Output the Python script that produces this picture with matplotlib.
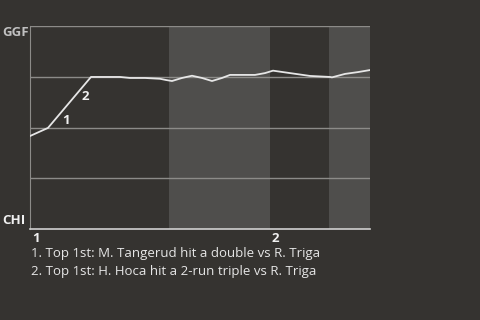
import matplotlib.pyplot as plt

# win expectancy for GGF (0 = CHI, 1 = GGF), x in plays through the game
play = [0, 1.8, 6.1, 9.0, 10, 11.5, 13, 13.6, 14.2, 15.2, 16.2, 17.2, 18.2, 19.2,
        20, 22.5, 23.5, 24.3, 26, 28, 30, 30.2, 31.5, 32.8, 34]
win_exp = [0.458, 0.498, 0.749, 0.749, 0.744, 0.744, 0.740, 0.734, 0.729, 0.744,
           0.755, 0.744, 0.729, 0.744, 0.759, 0.759, 0.768, 0.780, 0.768, 0.754,
           0.749, 0.747, 0.764, 0.773, 0.783]
half_innings = [(0, 13.9), (13.9, 24), (24, 29.9), (29.9, 34)]
inning_ticks = [0, 24]
inning_labels = ["1", "2"]
events = [(1.8, 0.498, "1"), (6.1, 0.749, "2")]
notes = ["1. Top 1st: M. Tangerud hit a double vs R. Triga",
         "2. Top 1st: H. Hoca hit a 2-run triple vs R. Triga"]

bg = "#353330"
plt.rcParams['font.family'] = ['Open Sans', 'DejaVu Sans']

fig = plt.figure(figsize=(4.8, 3.2), dpi=100, facecolor=bg)
ax = fig.add_axes([30 / 480, 91 / 320, 340 / 480, 203 / 320])
ax.set_facecolor(bg)

for i, (a, b) in enumerate(half_innings):
    if i % 2 == 1:
        ax.axvspan(a, b, color="#4f4e4c", lw=0, zorder=0)

for g in [0.25, 0.5, 0.75, 1.0]:
    ax.axhline(g, color="#8c8b88", lw=1, zorder=1)

ax.plot(play, win_exp, color="#e6e6e6", lw=1.3, zorder=3)

offsets = [(13, 5), (-4.3, -14.4)]
for (ex, ey, lab), off in zip(events, offsets):
    ax.annotate(lab, (ex, ey), xytext=off, textcoords="offset points",
                color="#f0f0f0", fontsize=9.5, fontweight="bold",
                ha="center", va="center")

ax.set_xlim(0, 34)
ax.set_ylim(0, 1)
for s in ["top", "right"]:
    ax.spines[s].set_visible(False)
ax.spines["left"].set_color("#8c8b88")
ax.spines["bottom"].set_color("#d0d0d0")
ax.spines["bottom"].set_linewidth(1.2)
ax.set_xticks([])
ax.set_yticks([])

for t, lab in zip(inning_ticks, inning_labels):
    ax.text(t + 0.2, -0.015, lab, color="#f0f0f0", fontsize=9.5, fontweight="bold",
            ha="left", va="top")

fig.text(2 / 480, 1 - 33 / 320, "GGF", color="#c0c0c0", fontsize=9.5,
         fontweight="bold", ha="left", va="center")
fig.text(2 / 480, 1 - 221 / 320, "CHI", color="#f0f0f0", fontsize=9.5,
         fontweight="bold", ha="left", va="center")

for k, n in enumerate(notes):
    fig.text(31 / 480, 1 - (254 + 18 * k) / 320, n, color="#e6e6e6",
             fontsize=9.5, ha="left", va="center")

fig.savefig("out.png", facecolor=bg)
